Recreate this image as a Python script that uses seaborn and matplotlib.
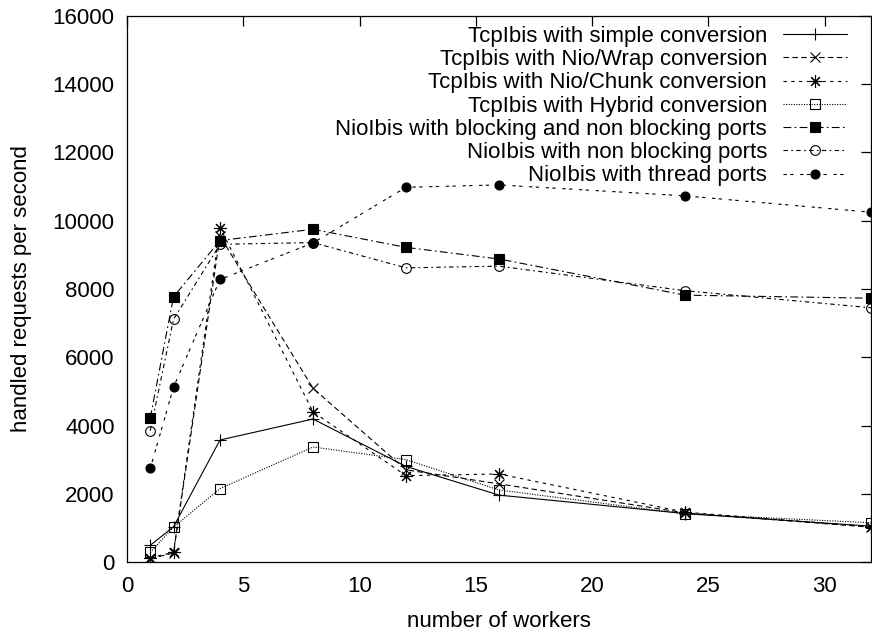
import matplotlib
matplotlib.use("Agg")
import matplotlib.pyplot as plt
import seaborn as sns
import numpy as np

workers = [1, 2, 4, 8, 12, 16, 24, 32]
tcp_simple = [490, 1030, 3575, 4190, 2800, 1960, 1420, 1050]
tcp_wrap = [100, 260, 9550, 5090, 2700, 2290, 1440, 1020]
tcp_chunk = [130, 280, 9800, 4400, 2530, 2580, 1460, 1030]
tcp_hybrid = [280, 1020, 2150, 3370, 3000, 2110, 1410, 1150]
nio_block_nonblock = [4220, 7770, 9420, 9750, 9220, 8880, 7820, 7730]
nio_nonblock = [3850, 7110, 9310, 9360, 8620, 8670, 7950, 7450]
nio_thread = [2740, 5120, 8280, 9350, 10980, 11050, 10730, 10250]

labels = [
    "TcpIbis with simple conversion",
    "TcpIbis with Nio/Wrap conversion",
    "TcpIbis with Nio/Chunk conversion",
    "TcpIbis with Hybrid conversion",
    "NioIbis with blocking and non blocking ports",
    "NioIbis with non blocking ports",
    "NioIbis with thread ports",
]
series = [tcp_simple, tcp_wrap, tcp_chunk, tcp_hybrid,
          nio_block_nonblock, nio_nonblock, nio_thread]

sns.set_theme(style="white")
plt.rcParams['font.family'] = ['Liberation Sans', 'DejaVu Sans']
plt.rcParams['text.color'] = 'black'
plt.rcParams['axes.labelcolor'] = 'black'

styles = [
    dict(linestyle='-', marker='+', markersize=9, mfc='none'),
    dict(linestyle=(0, (5, 3)), marker='x', markersize=7, mfc='none'),
    dict(linestyle=(0, (3, 4)), marker=(8, 2, 0), markersize=9, mfc='none'),
    dict(linestyle=(0, (1, 1.3)), marker='s', markersize=7, mfc='none'),
    dict(linestyle=(0, (7, 3, 1.5, 3)), marker='s', markersize=7, mfc='black'),
    dict(linestyle=(0, (4, 3, 1.5, 3)), marker='o', markersize=7, mfc='none'),
    dict(linestyle=(0, (3, 3, 3, 6)), marker='o', markersize=6.5, mfc='black'),
]

fig = plt.figure(figsize=(8.72, 6.32), dpi=100)
ax = fig.add_axes([127/872, 70/632, 744/872, 546/632])

for vals, lab, st in zip(series, labels, styles):
    sns.lineplot(x=workers, y=vals, ax=ax, color='black', linewidth=0.8,
                 linestyle=st['linestyle'], marker=st['marker'],
                 markersize=st['markersize'], markerfacecolor=st['mfc'],
                 markeredgecolor='black', markeredgewidth=0.8, label=lab)

ax.set_xlim(0, 32)
ax.set_ylim(0, 16000)
ax.set_xticks(np.arange(0, 31, 5))
ax.set_yticks(np.arange(0, 16001, 2000))
ax.tick_params(direction='in', length=7, width=0.9, top=True, right=True,
               labelsize=16, colors='black', pad=9)
ax.tick_params(axis='x', pad=10)
for s in ax.spines.values():
    s.set_color('black')
    s.set_linewidth(0.9)
ax.set_xlabel("number of workers", fontsize=16, labelpad=10, color='black')
ax.set_ylabel("handled requests per second", fontsize=16, labelpad=15, color='black')

leg = ax.legend(loc='upper right', bbox_to_anchor=((847-127)/744, (562-26)/546),
                frameon=False, markerfirst=False, fontsize=16, numpoints=1,
                handlelength=2.9, handletextpad=0.7, labelspacing=0.1,
                borderaxespad=0, borderpad=0, labelcolor='black')

fig.savefig("out.png", dpi=100)
